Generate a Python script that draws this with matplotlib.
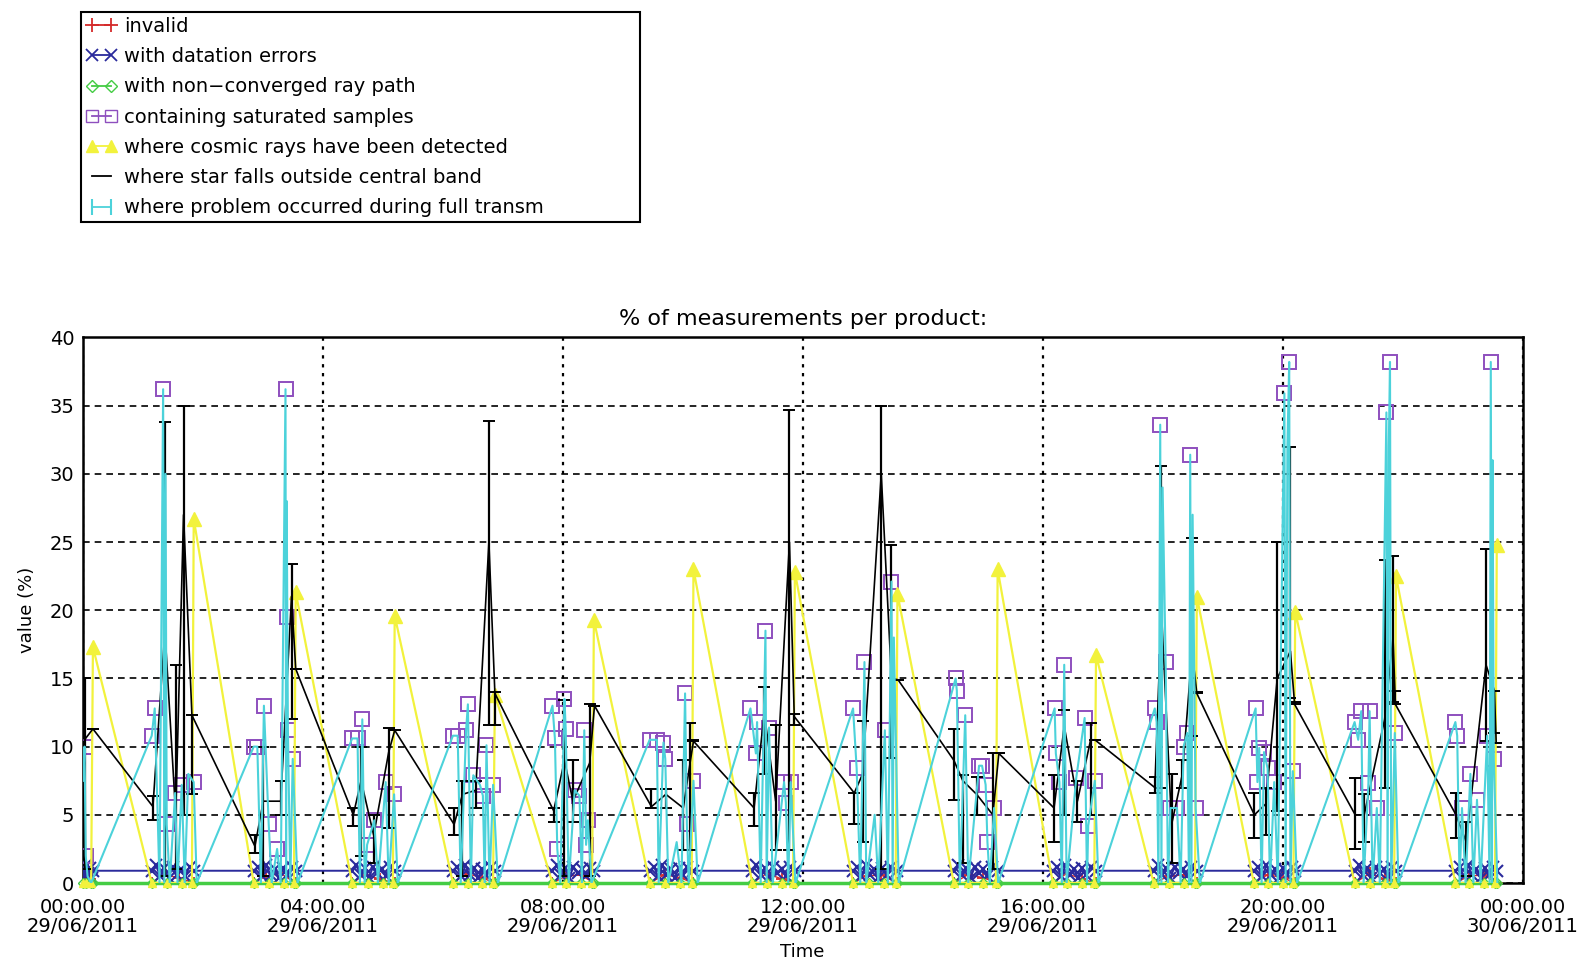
import matplotlib
matplotlib.use("Agg")
import matplotlib.pyplot as plt
from matplotlib.lines import Line2D

# --- data (time in hours since 29/06/2011 00:00, values in %) ---
hour_ticks = [0, 4, 8, 12, 16, 20, 24]
tick_labels = ["00:00.00\n29/06/2011", "04:00.00\n29/06/2011", "08:00.00\n29/06/2011",
               "12:00.00\n29/06/2011", "16:00.00\n29/06/2011", "20:00.00\n29/06/2011",
               "00:00.00\n30/06/2011"]

legend_labels = ["invalid", "with datation errors", "with non\u2212converged ray path",
                 "containing saturated samples", "where cosmic rays have been detected",
                 "where star falls outside central band",
                 "where problem occurred during full transm"]

# invalid
red_t = [0.00, 0.06, 0.12, 0.17, 1.15, 1.35, 1.60, 1.85, 2.85, 3.05, 3.30, 3.55,
         4.49, 4.70, 4.95, 5.20, 6.17, 6.40, 6.65, 6.87, 7.83, 8.05, 8.30, 8.52,
         9.45, 9.70, 9.95, 10.18, 11.16, 11.40, 11.65, 11.87, 12.84, 13.05, 13.30, 13.58,
         14.52, 14.75, 15.00, 15.25, 16.17, 16.40, 16.65, 16.89, 17.85, 18.10, 18.35, 18.57,
         19.52, 19.75, 20.00, 20.21, 21.20, 21.45, 21.70, 21.89, 22.88, 23.10, 23.35, 23.57]
red_v = [0, 0.6, 0.3, 0, 0, 0.6, 0.4, 0, 0, 0.5, 0.7, 0,
         0, 0.6, 0.3, 0, 0, 0.7, 0.4, 0, 0, 0.5, 0.6, 0,
         0, 0.6, 0.4, 0, 0, 0.7, 0.3, 0, 0, 0.5, 0.6, 0,
         0, 0.6, 0.4, 0, 0, 0.7, 0.3, 0, 0, 0.5, 0.6, 0,
         0, 0.6, 0.4, 0, 0, 0.7, 0.3, 0, 0, 0.5, 0.6, 0]

# with datation errors
blue_t = [0.00, 0.03, 0.06, 0.09, 0.12, 0.15, 0.17,
          1.15, 1.22, 1.29, 1.36, 1.43, 1.50, 1.57, 1.64, 1.71, 1.78, 1.85,
          2.85, 2.92, 2.99, 3.06, 3.13, 3.20, 3.27, 3.34, 3.41, 3.48, 3.55,
          4.49, 4.56, 4.63, 4.70, 4.77, 4.84, 4.91, 4.98, 5.05, 5.12, 5.20,
          6.17, 6.24, 6.31, 6.38, 6.45, 6.52, 6.59, 6.66, 6.73, 6.80, 6.87,
          7.83, 7.90, 7.97, 8.04, 8.11, 8.18, 8.25, 8.32, 8.39, 8.46, 8.52,
          9.45, 9.52, 9.59, 9.66, 9.73, 9.80, 9.87, 9.94, 10.01, 10.08, 10.18,
          11.16, 11.23, 11.30, 11.37, 11.44, 11.51, 11.58, 11.65, 11.72, 11.79, 11.87,
          12.84, 12.91, 12.98, 13.05, 13.12, 13.19, 13.26, 13.33, 13.40, 13.48, 13.58,
          14.52, 14.59, 14.66, 14.73, 14.80, 14.87, 14.94, 15.01, 15.08, 15.15, 15.25,
          16.17, 16.24, 16.31, 16.38, 16.45, 16.52, 16.59, 16.66, 16.73, 16.80, 16.89,
          17.85, 17.92, 17.99, 18.06, 18.13, 18.20, 18.27, 18.34, 18.41, 18.48, 18.57,
          19.52, 19.59, 19.66, 19.73, 19.80, 19.87, 19.94, 20.01, 20.08, 20.15, 20.21,
          21.20, 21.27, 21.34, 21.41, 21.48, 21.55, 21.62, 21.69, 21.76, 21.83, 21.89,
          22.88, 22.95, 23.02, 23.09, 23.16, 23.23, 23.30, 23.37, 23.44, 23.51, 23.57]
blue_v = [1.0, 0.5, 1.3, 0.7, 1.1, 0.4, 0.9,
          0.9, 1.3, 0.5, 1.1, 0.4, 1.2, 0.6, 1.0, 0.5, 1.2, 0.9,
          0.9, 1.2, 0.5, 1.3, 0.6, 1.0, 0.4, 1.1, 0.6, 1.2, 0.9,
          0.9, 1.3, 0.6, 1.1, 0.4, 1.2, 0.7, 1.0, 0.5, 1.2, 0.9,
          0.9, 1.2, 0.5, 1.3, 0.6, 1.1, 0.4, 1.0, 0.6, 1.2, 0.9,
          0.9, 1.3, 0.6, 1.1, 0.4, 1.2, 0.7, 1.0, 0.5, 1.1, 0.9,
          0.9, 1.2, 0.5, 1.3, 0.6, 1.0, 0.4, 1.1, 0.6, 1.2, 0.9,
          0.9, 1.3, 0.6, 1.1, 0.4, 1.2, 0.7, 1.0, 0.5, 1.2, 0.9,
          0.9, 1.2, 0.5, 1.3, 0.6, 1.0, 0.4, 1.1, 0.6, 1.2, 0.9,
          0.9, 1.3, 0.6, 1.1, 0.4, 1.2, 0.7, 1.0, 0.5, 1.2, 0.9,
          0.9, 1.2, 0.5, 1.3, 0.6, 1.0, 0.4, 1.1, 0.6, 1.2, 0.9,
          0.9, 1.3, 0.6, 1.1, 0.4, 1.2, 0.7, 1.0, 0.5, 1.2, 0.9,
          0.9, 1.2, 0.5, 1.3, 0.6, 1.0, 0.4, 1.1, 0.6, 1.2, 0.9,
          0.9, 1.3, 0.6, 1.1, 0.4, 1.2, 0.7, 1.0, 0.5, 1.2, 0.9,
          0.9, 1.2, 0.5, 1.3, 0.6, 1.0, 0.4, 1.1, 0.6, 1.2, 0.9]

# where cosmic rays have been detected
yellow_t = [0.00, 0.06, 0.14, 0.17,
            1.15, 1.40, 1.65, 1.82, 1.85, 2.85, 3.10, 3.35, 3.52, 3.55,
            4.49, 4.75, 5.00, 5.17, 5.20, 6.17, 6.42, 6.65, 6.84, 6.87,
            7.83, 8.05, 8.30, 8.49, 8.52, 9.45, 9.70, 9.95, 10.15, 10.18,
            11.16, 11.40, 11.65, 11.84, 11.87, 12.84, 13.10, 13.35, 13.55, 13.58,
            14.52, 14.75, 15.00, 15.22, 15.25, 16.17, 16.40, 16.65, 16.86, 16.89,
            17.85, 18.10, 18.35, 18.54, 18.57, 19.52, 19.75, 20.00, 20.18, 20.21,
            21.20, 21.45, 21.70, 21.86, 21.89, 22.88, 23.10, 23.35, 23.54, 23.57]
yellow_v = [0, 0, 0, 17.3,
            0, 0, 0, 0, 26.7, 0, 0, 0, 0, 21.3,
            0, 0, 0, 0, 19.6, 0, 0, 0, 0, 13.8,
            0, 0, 0, 0, 19.3, 0, 0, 0, 0, 23.0,
            0, 0, 0, 0, 22.8, 0, 0, 0, 0, 21.2,
            0, 0, 0, 0, 23.0, 0, 0, 0, 0, 16.7,
            0, 0, 0, 0, 21.0, 0, 0, 0, 0, 19.9,
            0, 0, 0, 0, 22.5, 0, 0, 0, 0, 24.8]

# with non-converged ray path (always zero)
green_t = yellow_t
green_v = [0.0] * len(green_t)

# where star falls outside central band (value, min, max)
black_t = [0.03, 0.17,
           1.17, 1.37, 1.55, 1.68, 1.82,
           2.87, 3.01, 3.30, 3.48, 3.55,
           4.51, 4.64, 4.85, 5.10, 5.20,
           6.19, 6.33, 6.55, 6.77, 6.87,
           7.85, 8.03, 8.17, 8.45, 8.53,
           9.48, 9.72, 10.01, 10.13, 10.18,
           11.19, 11.36, 11.55, 11.78, 11.86,
           12.86, 13.00, 13.31, 13.48, 13.59,
           14.52, 14.67, 14.90, 15.17, 15.27,
           16.19, 16.36, 16.58, 16.80, 16.87,
           17.87, 17.98, 18.15, 18.33, 18.49, 18.57,
           19.53, 19.72, 19.91, 20.13, 20.20,
           21.21, 21.36, 21.70, 21.84, 21.88,
           22.89, 23.06, 23.39, 23.53, 23.56]
black_v = [10.5, 11.3,
           5.6, 18.5, 5.0, 27.0, 12.3,
           2.7, 6.0, 6.0, 21.0, 15.7,
           5.0, 7.5, 3.5, 9.6, 11.2,
           4.3, 6.5, 6.8, 25.0, 13.9,
           5.3, 9.0, 6.0, 8.8, 13.0,
           5.6, 6.5, 5.5, 9.0, 10.4,
           5.5, 12.5, 6.0, 25.0, 12.2,
           6.6, 8.0, 30.0, 15.0, 14.9,
           9.0, 7.5, 6.5, 5.0, 9.5,
           5.5, 11.5, 6.0, 10.5, 10.5,
           7.0, 20.0, 4.3, 8.0, 17.0, 13.9,
           5.0, 5.8, 15.0, 17.0, 13.1,
           5.0, 5.0, 12.0, 18.0, 13.1,
           5.0, 3.0, 16.0, 14.1, 10.3]
black_lo = [1.0, 11.3,
            4.6, 0.5, 1.0, 5.0, 6.5,
            2.2, 0.5, 5.0, 12.0, 15.7,
            4.2, 2.0, 1.5, 4.0, 11.2,
            3.5, 0.5, 5.5, 11.6, 11.6,
            4.5, 0.5, 4.5, 0.5, 13.0,
            5.5, 5.5, 2.4, 2.4, 10.4,
            4.2, 8.0, 2.4, 2.4, 11.6,
            4.3, 3.0, 1.0, 9.2, 14.9,
            6.1, 1.5, 5.0, 1.0, 9.5,
            3.0, 5.0, 4.5, 5.0, 10.5,
            6.6, 7.0, 1.5, 7.0, 10.8, 13.9,
            3.3, 3.5, 5.3, 13.6, 13.1,
            2.5, 3.0, 7.0, 13.3, 13.1,
            3.3, 0.5, 10.4, 11.0, 10.3]
black_hi = [15.0, 11.3,
            6.4, 33.8, 16.0, 35.0, 12.3,
            3.5, 10.0, 7.5, 23.4, 15.7,
            5.5, 10.0, 5.0, 11.4, 11.2,
            5.5, 7.5, 7.5, 33.9, 14.0,
            5.5, 13.4, 9.0, 13.1, 13.0,
            6.9, 6.9, 9.0, 11.7, 10.5,
            6.6, 14.4, 11.6, 34.7, 12.4,
            6.6, 11.9, 35.0, 24.8, 14.9,
            11.3, 7.9, 7.8, 9.5, 9.5,
            7.9, 12.7, 7.5, 11.7, 10.5,
            7.8, 30.6, 8.0, 9.0, 25.3, 14.0,
            6.6, 7.0, 25.0, 32.0, 13.3,
            7.7, 6.5, 23.7, 24.0, 14.1,
            6.6, 4.5, 24.5, 14.1, 10.3]

# containing saturated samples
purple_t = [0.03, 0.05,
            1.15, 1.20, 1.34, 1.40, 1.54, 1.65, 1.85,
            2.85, 2.91, 3.02, 3.10, 3.24, 3.38, 3.41, 3.42, 3.50,
            4.49, 4.58, 4.66, 4.74, 4.86, 5.05, 5.19,
            6.17, 6.25, 6.39, 6.42, 6.51, 6.62, 6.67, 6.73, 6.84,
            7.83, 7.87, 7.91, 8.03, 8.05, 8.20, 8.28, 8.36, 8.39, 8.42,
            9.45, 9.57, 9.68, 9.71, 10.04, 10.07, 10.18,
            11.13, 11.22, 11.24, 11.38, 11.44, 11.69, 11.72, 11.80,
            12.84, 12.90, 13.03, 13.37, 13.48,
            14.55, 14.57, 14.71, 14.94, 14.99, 15.05, 15.08, 15.19,
            16.20, 16.22, 16.28, 16.36, 16.56, 16.70, 16.76, 16.87,
            17.87, 17.90, 17.96, 18.05, 18.13, 18.24, 18.35, 18.41, 18.46, 18.55,
            19.55, 19.58, 19.61, 19.69, 19.75, 19.86, 20.03, 20.11, 20.17,
            21.20, 21.26, 21.31, 21.43, 21.45, 21.57, 21.73, 21.79, 21.87,
            22.88, 22.91, 22.99, 23.13, 23.24, 23.41, 23.47, 23.52]
purple_v = [10.0, 2.0,
            10.8, 12.8, 36.2, 4.3, 6.6, 7.2, 7.4,
            10.0, 10.0, 13.0, 4.3, 2.5, 36.2, 19.5, 11.2, 9.1,
            10.6, 10.6, 12.0, 2.8, 4.6, 7.4, 6.5,
            10.8, 10.8, 11.2, 13.1, 7.9, 7.2, 6.4, 10.1, 7.2,
            13.0, 10.6, 2.5, 13.5, 11.3, 6.8, 6.4, 11.2, 2.8, 4.6,
            10.5, 10.5, 10.3, 9.1, 13.9, 4.3, 7.5,
            12.8, 9.5, 11.8, 18.5, 11.4, 7.4, 5.9, 7.4,
            12.8, 8.4, 16.2, 11.2, 22.1,
            15.0, 14.1, 12.3, 8.6, 8.6, 7.2, 3.0, 5.5,
            12.8, 9.5, 7.4, 16.0, 7.7, 12.1, 4.2, 7.5,
            12.8, 11.8, 33.6, 16.2, 5.5, 5.5, 10.0, 11.0, 31.4, 5.5,
            12.8, 7.4, 9.9, 9.6, 8.4, 7.4, 35.9, 38.2, 8.2,
            11.8, 10.5, 12.6, 7.3, 12.6, 5.5, 34.5, 38.2, 11.0,
            11.8, 10.8, 5.5, 8.0, 6.1, 10.8, 38.2, 9.1]

# where problem occurred during full transm
cyan_t = [0.01, 0.03, 0.05, 0.08, 0.14,
          1.15, 1.20, 1.28, 1.34, 1.36, 1.38, 1.40, 1.45, 1.54, 1.58, 1.65, 1.70, 1.76, 1.85, 1.90,
          2.85, 2.91, 2.97, 3.02, 3.10, 3.15, 3.24, 3.30, 3.38, 3.39, 3.40, 3.41, 3.42, 3.46, 3.50, 3.58,
          4.49, 4.58, 4.62, 4.66, 4.70, 4.74, 4.86, 4.92, 5.05, 5.10, 5.19, 5.25,
          6.17, 6.25, 6.30, 6.39, 6.42, 6.47, 6.51, 6.62, 6.67, 6.70, 6.73, 6.78, 6.84, 6.92,
          7.83, 7.87, 7.91, 7.96, 8.03, 8.05, 8.10, 8.20, 8.28, 8.32, 8.36, 8.39, 8.42, 8.48,
          9.45, 9.57, 9.60, 9.68, 9.71, 9.76, 9.90, 9.98, 10.04, 10.07, 10.10, 10.18, 10.25,
          11.13, 11.22, 11.24, 11.30, 11.38, 11.40, 11.44, 11.50, 11.69, 11.72, 11.76, 11.80, 11.88,
          12.84, 12.90, 12.96, 13.03, 13.06, 13.20, 13.26, 13.37, 13.42, 13.48, 13.50, 13.52, 13.60,
          14.55, 14.57, 14.62, 14.71, 14.76, 14.94, 14.99, 15.05, 15.08, 15.12, 15.19, 15.26,
          16.20, 16.22, 16.28, 16.32, 16.36, 16.40, 16.56, 16.70, 16.74, 16.76, 16.87, 16.93,
          17.87, 17.90, 17.93, 17.96, 17.98, 18.00, 18.05, 18.09, 18.13, 18.24, 18.30, 18.35,
          18.41, 18.44, 18.46, 18.48, 18.50, 18.55, 18.62,
          19.55, 19.58, 19.61, 19.65, 19.69, 19.75, 19.79, 19.86, 19.92, 20.03, 20.05, 20.08,
          20.11, 20.13, 20.17, 20.24,
          21.20, 21.26, 21.31, 21.35, 21.43, 21.45, 21.50, 21.57, 21.62, 21.73, 21.75, 21.77,
          21.79, 21.81, 21.87, 21.93,
          22.88, 22.91, 22.95, 22.99, 23.05, 23.13, 23.18, 23.24, 23.30, 23.41, 23.45, 23.47,
          23.49, 23.50, 23.52, 23.58]
cyan_v = [7.5, 10.0, 2.0, 0.5, 0.0,
          10.8, 12.8, 0.0, 36.2, 0.0, 30.0, 4.3, 0.0, 6.6, 0.0, 7.2, 0.0, 8.0, 7.4, 0.0,
          10.0, 10.0, 0.0, 13.0, 4.3, 0.0, 2.5, 0.0, 36.2, 0.0, 28.0, 19.5, 11.2, 0.0, 9.1, 0.0,
          10.6, 10.6, 0.0, 12.0, 0.0, 2.8, 4.6, 0.0, 7.4, 0.0, 6.5, 0.0,
          10.8, 10.8, 0.0, 11.2, 13.1, 0.0, 7.9, 7.2, 6.4, 0.0, 10.1, 0.0, 7.2, 0.0,
          13.0, 10.6, 2.5, 0.0, 13.5, 11.3, 0.0, 6.8, 6.4, 0.0, 11.2, 2.8, 4.6, 0.0,
          10.5, 10.5, 0.0, 10.3, 9.1, 0.0, 3.0, 0.0, 13.9, 4.3, 0.0, 7.5, 0.0,
          12.8, 9.5, 11.8, 0.0, 18.5, 0.0, 11.4, 0.0, 7.4, 5.9, 0.0, 7.4, 0.0,
          12.8, 8.4, 0.0, 16.2, 0.0, 5.0, 0.0, 11.2, 0.0, 22.1, 0.0, 18.0, 0.0,
          15.0, 14.1, 0.0, 12.3, 0.0, 8.6, 8.6, 7.2, 3.0, 0.0, 5.5, 0.0,
          12.8, 9.5, 7.4, 0.0, 16.0, 0.0, 7.7, 12.1, 0.0, 4.2, 7.5, 0.0,
          12.8, 11.8, 0.0, 33.6, 0.0, 29.0, 16.2, 0.0, 5.5, 5.5, 0.0, 10.0,
          11.0, 0.0, 31.4, 0.0, 27.0, 5.5, 0.0,
          12.8, 7.4, 9.9, 0.0, 9.6, 8.4, 0.0, 7.4, 0.0, 35.9, 0.0, 32.0,
          38.2, 0.0, 8.2, 0.0,
          11.8, 10.5, 12.6, 0.0, 7.3, 12.6, 0.0, 5.5, 0.0, 34.5, 0.0, 32.0,
          38.2, 0.0, 11.0, 0.0,
          11.8, 10.8, 0.0, 5.5, 0.0, 8.0, 0.0, 6.1, 0.0, 10.8, 0.0, 38.2,
          0.0, 31.0, 9.1, 0.0]

RED = "#d42a2a"
BLUE = "#2a2a9c"
GREEN = "#44cc44"
PURPLE = "#8e4fbe"
YELLOW = "#f2f23c"
CYAN = "#4cd2da"

fig = plt.figure(figsize=(15.91, 9.64), dpi=100)
ax = fig.add_axes([0.052, 0.084, 0.905, 0.566])

ax.plot(red_t, red_v, color=RED, marker="+", ms=9, mew=1.3, lw=1.0, zorder=3)
ax.plot(blue_t, blue_v, color=BLUE, marker="x", ms=8, mew=1.5, lw=1.4, zorder=3)
ax.plot(green_t, green_v, color=GREEN, marker="D", ms=5, mfc="none", lw=2.5,
        clip_on=False, zorder=3)
ax.plot(purple_t, purple_v, ls="none", marker="s", ms=10, mfc="none", mec=PURPLE,
        mew=1.4, zorder=4)

# cosmic rays: big triangles on the peaks, small ones on the zero points
peak_idx = [i for i, v in enumerate(yellow_v) if v > 0]
zero_idx = [i for i, v in enumerate(yellow_v) if v == 0]
ax.plot(yellow_t, yellow_v, color=YELLOW, marker="^", ms=10, lw=1.6,
        markevery=peak_idx, zorder=5)
ax.plot(yellow_t, yellow_v, ls="none", color=YELLOW, marker="^", ms=6,
        markevery=zero_idx, clip_on=False, zorder=5)

err_lo = [v - lo for v, lo in zip(black_v, black_lo)]
err_hi = [hi - v for v, hi in zip(black_v, black_hi)]
ax.errorbar(black_t, black_v, yerr=[err_lo, err_hi], color="k", lw=1.2, elinewidth=1.6,
            capsize=4, capthick=1.4, zorder=6)
ax.plot(cyan_t, cyan_v, color=CYAN, lw=1.5, zorder=7)

ax.set_xlim(0, 24)
ax.set_ylim(0, 40)
ax.set_xticks(hour_ticks)
ax.set_xticklabels(tick_labels, fontsize=14)
for lbl in ax.get_xticklabels():
    lbl.set_linespacing(1.0)
ax.set_yticks(range(0, 41, 5))
ax.tick_params(axis="y", labelsize=14, length=0, pad=6)
ax.tick_params(axis="x", length=0, pad=11)

ax.yaxis.grid(True, color="k", ls=(0, (4, 3)), lw=1.2)
ax.xaxis.grid(True, color="k", ls=(0, (1.5, 2.5)), lw=1.6)
ax.set_axisbelow(True)
for sp in ax.spines.values():
    sp.set_linewidth(1.8)

ax.set_title("% of measurements per product:", fontsize=16, pad=9)
ax.set_ylabel("value (%)", fontsize=13, labelpad=10)
ax.set_xlabel("Time", fontsize=13, labelpad=5)

# legend (IDL style, above the plot)
handles = [
    Line2D([], [], color=RED, marker="+", ms=10, mew=1.3, lw=1.3),
    Line2D([], [], color=BLUE, marker="x", ms=8, mew=1.3, lw=1.3),
    Line2D([], [], color=GREEN, marker="D", ms=6, mfc="none", lw=1.3),
    Line2D([], [], color=PURPLE, marker="s", ms=9, mfc="none", lw=1.3),
    Line2D([], [], color=YELLOW, marker="^", ms=9, lw=1.3),
    Line2D([], [], color="k", lw=1.3),
    Line2D([], [], color=CYAN, marker="|", ms=12, mew=1.5, markevery=[0], lw=1.3),
]
leg = fig.legend(handles, legend_labels, loc="upper left",
                 bbox_to_anchor=(0.051, 0.768, 0.351, 0.2196), mode="expand",
                 numpoints=2, fontsize=14, handlelength=1.6, handletextpad=0.35,
                 borderaxespad=0, labelspacing=0.58, borderpad=0.25,
                 fancybox=False, framealpha=1, edgecolor="k")
leg.get_frame().set_linewidth(1.5)

fig.savefig("out.png", dpi=100)
